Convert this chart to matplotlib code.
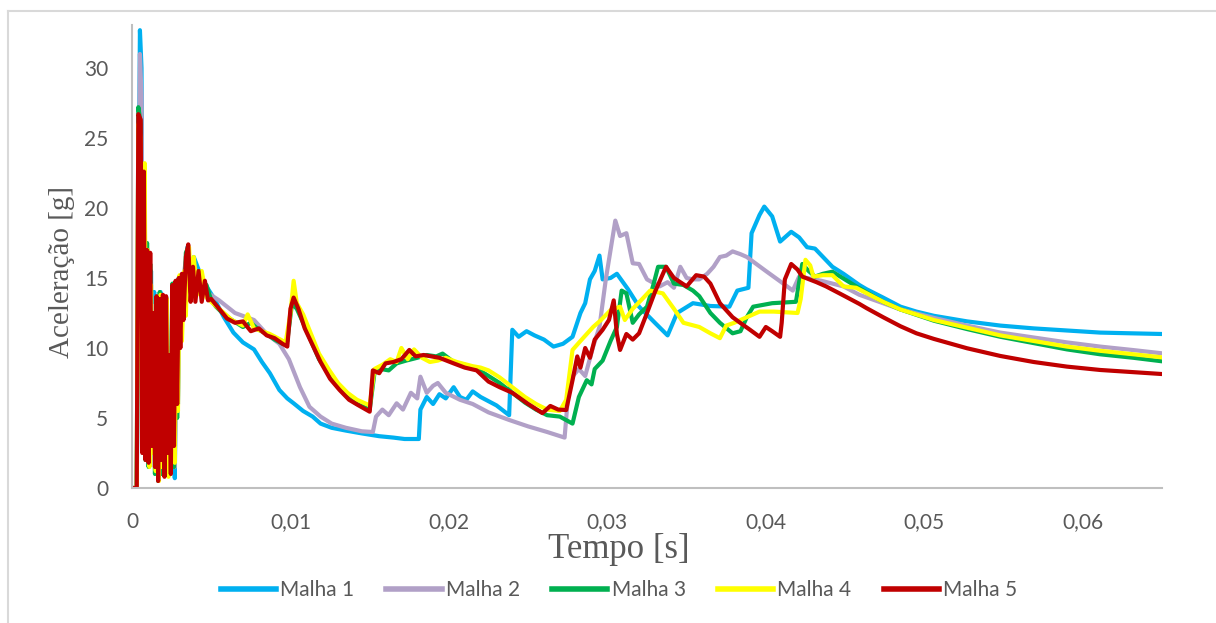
import matplotlib
matplotlib.use("Agg")
import matplotlib.pyplot as plt
from matplotlib.lines import Line2D

# ---------------- data: (time in ms, acceleration in g) ----------------
series_names = ["Malha 1", "Malha 2", "Malha 3", "Malha 4", "Malha 5"]
series_colors = ["#00B0F0", "#B1A0C7", "#00B050", "#FFFF00", "#C00000"]

malha1 = [
    (0, 0), (0.3, 0), (0.5, 32.7), (0.6, 30), (0.7, 5), (0.8, 20), (0.9, 3), (1.0, 17), (1.1, 2),
    (1.2, 15.5), (1.3, 3), (1.4, 14), (1.5, 2.5), (1.6, 13.5), (1.7, 1.5), (1.8, 14), (1.9, 2),
    (2.0, 13), (2.1, 1), (2.2, 13.5), (2.3, 3), (2.4, 10), (2.5, 2), (2.6, 14), (2.7, 0.7), (2.8, 11),
    (2.9, 6), (3.0, 14.5), (3.15, 12.5), (3.3, 15), (3.5, 17.2), (3.7, 15.5), (3.9, 16.5), (4.2, 15.6),
    (4.7, 14.4), (5.2, 13.5), (5.8, 12.2), (6.4, 11.1), (7.0, 10.4), (7.7, 9.9), (8.2, 9.0), (8.7, 8.2),
    (9.3, 7.0), (9.8, 6.4), (10.2, 6.05), (10.8, 5.5), (11.4, 5.1), (11.9, 4.6), (12.6, 4.3),
    (13.5, 4.1), (14.5, 3.9), (15.6, 3.7), (16.5, 3.6), (17.2, 3.5), (18.1, 3.5), (18.2, 5.6),
    (18.6, 6.5), (19.0, 6.0), (19.4, 6.7), (19.8, 6.4), (20.3, 7.2), (20.7, 6.5), (21.1, 6.3),
    (21.5, 6.9), (22.0, 6.5), (23.0, 5.9), (23.8, 5.2), (24.0, 11.3), (24.4, 10.8), (24.9, 11.2),
    (25.4, 10.9), (26.0, 10.6), (26.6, 10.1), (27.2, 10.3), (27.8, 10.8), (28.3, 12.5), (28.6, 13.2),
    (28.9, 14.9), (29.2, 15.5), (29.5, 16.6), (29.7, 14.9), (30.2, 15.0), (30.6, 15.3), (31.3, 14.2),
    (32.0, 12.95), (33.0, 11.8), (33.8, 10.9), (34.4, 12.5), (35.4, 13.2), (36.5, 13.0), (37.7, 12.95),
    (38.2, 14.1), (38.9, 14.3), (39.1, 18.2), (39.6, 19.5), (39.9, 20.1), (40.4, 19.4), (40.9, 17.6),
    (41.6, 18.3), (42.1, 17.9), (42.6, 17.2), (43.1, 17.1), (44.2, 15.8), (44.9, 15.3), (45.9, 14.5),
    (46.35, 14.2), (47.4, 13.6), (48.5, 12.95), (49.5, 12.6), (50.6, 12.3), (52.7, 11.9),
    (54.8, 11.6), (56.9, 11.4), (59.0, 11.25), (61.1, 11.1), (63.0, 11.05), (65.0, 11.0)]

malha2 = [
    (0, 0), (0.3, 0), (0.5, 31), (0.6, 28), (0.7, 4), (0.8, 21), (0.9, 3), (1.0, 16), (1.1, 2),
    (1.2, 14), (1.3, 2.5), (1.4, 13), (1.5, 1.5), (1.6, 13.5), (1.7, 1), (1.8, 13), (1.9, 2),
    (2.0, 13), (2.1, 1.5), (2.2, 13.5), (2.3, 2.5), (2.4, 10), (2.5, 3.5), (2.6, 13.5), (2.7, 1.5),
    (2.8, 11), (2.9, 6), (3.0, 14), (3.15, 12.5), (3.3, 15.5), (3.5, 17), (3.7, 14.5), (3.9, 16),
    (4.2, 14.8), (4.7, 14), (5.5, 13.4), (6.5, 12.5), (7.7, 12.0), (8.5, 11.0), (9.3, 10.3),
    (9.9, 9.2), (10.6, 7.2), (11.2, 5.8), (11.9, 5.1), (12.6, 4.6), (13.5, 4.3), (14.5, 4.05),
    (15.2, 4.0), (15.4, 5.1), (15.8, 5.6), (16.2, 5.2), (16.7, 6.05), (17.1, 5.6), (17.6, 6.8),
    (18.0, 6.4), (18.2, 7.95), (18.6, 6.8), (19.0, 7.3), (19.3, 7.5), (19.8, 6.8), (20.7, 6.3),
    (21.5, 6.0), (22.5, 5.4), (23.8, 4.86), (25.0, 4.4), (26.2, 4.0), (27.3, 3.6), (27.6, 7.7),
    (28.2, 8.5), (28.6, 8.0), (29.1, 10.1), (29.5, 11.5), (29.9, 14.9), (30.2, 17.0), (30.5, 19.1),
    (30.8, 18.0), (31.2, 18.2), (31.6, 16.05), (32.0, 16.0), (32.5, 14.9), (33.3, 14.4), (33.8, 14.7),
    (34.2, 14.3), (34.6, 15.8), (35.0, 15.0), (35.4, 14.9), (35.8, 14.9), (36.3, 15.3), (36.7, 15.8),
    (37.1, 16.5), (37.5, 16.6), (37.9, 16.9), (38.4, 16.7), (38.8, 16.5), (40.0, 15.5), (41.1, 14.6),
    (41.7, 14.1), (42.1, 15.1), (42.6, 15.0), (43.5, 14.8), (44.9, 14.4), (45.9, 13.8), (47.4, 13.2),
    (48.5, 12.75), (50.6, 12.15), (52.7, 11.6), (54.8, 11.1), (56.9, 10.75), (59.0, 10.4),
    (61.1, 10.1), (63.2, 9.85), (65.0, 9.62)]

malha3 = [
    (0, 0), (0.3, 0), (0.4, 27.2), (0.55, 26), (0.65, 3), (0.75, 22.5), (0.85, 2), (0.95, 17.5),
    (1.05, 1.5), (1.15, 16), (1.25, 3), (1.35, 12), (1.45, 1), (1.55, 13), (1.65, 0.5), (1.75, 14),
    (1.85, 1), (1.95, 13.5), (2.05, 2), (2.15, 13.2), (2.25, 1.2), (2.35, 9), (2.45, 4.5), (2.55, 14.6),
    (2.65, 1.5), (2.75, 14.5), (2.85, 5), (2.95, 15), (3.05, 11), (3.2, 15), (3.3, 12.5), (3.4, 16.8),
    (3.55, 17.2), (3.7, 14), (3.85, 16), (4.0, 14), (4.2, 15.5), (4.4, 13.8), (4.7, 14.5), (5.0, 13.4),
    (5.3, 12.95), (5.8, 12.4), (6.3, 12.0), (7.0, 11.5), (7.5, 11.8), (8.0, 11.3), (8.5, 11.0),
    (9.0, 10.6), (9.5, 10.3), (9.8, 10.5), (10.1, 13.2), (10.4, 12.8), (10.8, 11.8), (11.3, 10.5),
    (11.8, 9.2), (12.4, 8.2), (13.0, 7.2), (13.6, 6.5), (14.2, 6.0), (15.0, 5.6), (15.3, 8.2),
    (15.7, 8.5), (16.2, 8.4), (16.7, 8.9), (17.3, 9.1), (18.0, 9.3), (18.6, 9.5), (19.2, 9.4),
    (19.6, 9.6), (20.3, 9.0), (21.0, 8.8), (21.8, 8.5), (22.5, 8.0), (23.2, 7.5), (24.0, 6.8),
    (24.8, 6.1), (25.5, 5.6), (26.2, 5.2), (27.0, 5.1), (27.8, 4.6), (28.2, 6.5), (28.7, 7.7),
    (29.0, 7.4), (29.2, 8.5), (29.7, 9.1), (30.2, 10.5), (30.6, 11.5), (30.9, 14.1), (31.2, 13.9),
    (31.6, 11.8), (32.0, 12.4), (32.5, 12.95), (32.9, 14.5), (33.2, 15.8), (33.7, 15.8), (34.2, 14.6),
    (34.8, 14.5), (35.4, 14.1), (35.8, 13.7), (36.5, 12.5), (37.1, 11.8), (37.9, 11.05), (38.4, 11.2),
    (38.8, 12.2), (39.2, 12.95), (40.4, 13.2), (41.9, 13.3), (42.1, 14.7), (42.3, 16.0), (42.7, 15.5),
    (43.1, 15.1), (43.6, 15.3), (44.2, 15.45), (44.7, 15.1), (45.7, 14.4), (47.4, 13.3), (48.5, 12.75),
    (50.6, 11.95), (52.7, 11.35), (54.8, 10.8), (56.9, 10.35), (59.0, 9.9), (61.1, 9.55), (63.2, 9.3),
    (65.0, 9.05)]

malha4 = [
    (0, 0), (0.3, 0), (0.4, 26), (0.55, 25), (0.65, 3.5), (0.8, 23.2), (0.9, 2), (1.0, 17),
    (1.1, 1.5), (1.2, 14.5), (1.3, 2.5), (1.4, 12.5), (1.5, 1.2), (1.6, 13), (1.7, 0.5), (1.8, 13.8),
    (1.9, 1.5), (2.0, 13), (2.1, 2), (2.2, 13.5), (2.3, 0.8), (2.4, 9.5), (2.5, 3), (2.6, 14.5),
    (2.7, 1.8), (2.8, 14), (2.9, 5.5), (3.0, 15.2), (3.15, 10.5), (3.3, 15.5), (3.4, 12.3), (3.5, 17.0),
    (3.6, 17.2), (3.75, 13.8), (3.9, 16.5), (4.1, 13.8), (4.4, 15.5), (4.7, 13.6), (5.3, 13.0),
    (5.8, 12.5), (6.3, 12.0), (7.0, 11.6), (7.3, 12.4), (7.7, 11.4), (8.2, 11.2), (8.7, 11.0),
    (9.2, 10.7), (9.7, 10.4), (10.0, 12.5), (10.2, 14.8), (10.4, 13.2), (10.8, 12.4), (11.3, 11.0),
    (11.8, 9.6), (12.4, 8.5), (13.0, 7.5), (13.6, 6.8), (14.2, 6.3), (15.0, 5.9), (15.3, 8.5),
    (15.8, 8.8), (16.3, 9.2), (16.7, 9.0), (17.0, 10.0), (17.4, 9.2), (17.8, 9.9), (18.3, 9.3),
    (18.8, 9.0), (19.3, 9.1), (19.8, 9.3), (20.5, 9.0), (21.5, 8.7), (22.0, 8.6), (22.5, 8.4),
    (23.2, 7.9), (24.0, 7.2), (24.8, 6.5), (25.5, 6.0), (26.2, 5.6), (27.0, 5.5), (27.4, 6.3),
    (27.8, 9.86), (28.3, 10.5), (28.7, 11.0), (29.1, 11.5), (29.6, 12.0), (30.2, 12.7), (30.8, 12.95),
    (31.1, 12.0), (31.6, 12.8), (32.2, 13.5), (32.7, 14.1), (33.1, 14.0), (33.5, 13.9), (34.2, 12.8),
    (34.8, 11.8), (35.8, 11.5), (36.5, 11.05), (37.1, 10.7), (37.5, 11.6), (38.0, 11.8), (38.6, 12.1),
    (39.6, 12.6), (40.5, 12.6), (42.0, 12.5), (42.2, 13.5), (42.5, 16.3), (42.8, 15.9), (43.0, 15.1),
    (43.6, 15.2), (44.2, 15.2), (44.9, 14.4), (45.7, 14.3), (47.4, 13.3), (48.5, 12.75), (50.6, 12.0),
    (52.7, 11.45), (54.8, 10.9), (56.9, 10.5), (59.0, 10.1), (61.1, 9.8), (63.2, 9.55), (65.0, 9.33)]

malha5 = [
    (0, 0), (0.3, 0), (0.4, 26.7), (0.55, 26.3), (0.65, 2.5), (0.75, 22.6), (0.85, 2), (0.95, 17),
    (1.05, 1.8), (1.15, 16.8), (1.25, 3), (1.35, 12.5), (1.45, 1.5), (1.55, 13.7), (1.65, 0.5),
    (1.75, 13.5), (1.85, 2), (1.95, 13.8), (2.05, 0.8), (2.15, 13.7), (2.25, 2.5), (2.35, 9.5),
    (2.45, 1), (2.55, 14.5), (2.65, 3), (2.75, 14.8), (2.85, 6), (2.95, 15), (3.05, 10), (3.15, 15.3),
    (3.25, 12), (3.4, 16.5), (3.55, 17.4), (3.7, 13.3), (3.85, 15.8), (4.0, 13.3), (4.2, 15.5),
    (4.4, 13.3), (4.6, 14.8), (4.8, 13.4), (5.0, 13.5), (5.5, 12.8), (6.0, 12.1), (6.5, 11.8),
    (7.0, 11.9), (7.5, 11.2), (8.0, 11.4), (8.5, 10.9), (9.0, 10.7), (9.5, 10.3), (9.8, 10.1),
    (10.0, 12.8), (10.2, 13.6), (10.5, 12.8), (10.9, 11.4), (11.4, 10.2), (11.9, 9.0), (12.5, 7.8),
    (13.1, 7.0), (13.7, 6.3), (14.3, 5.9), (15.0, 5.45), (15.2, 8.4), (15.6, 8.2), (16.0, 8.9),
    (16.5, 9.0), (17.0, 9.2), (17.5, 9.86), (17.9, 9.4), (18.4, 9.5), (19.4, 9.3), (20.3, 8.9),
    (21.0, 8.6), (21.75, 8.4), (22.5, 7.6), (23.2, 7.2), (24.0, 6.8), (25.0, 6.0), (25.9, 5.35),
    (26.4, 5.86), (26.9, 5.6), (27.4, 5.57), (27.8, 7.7), (28.1, 9.4), (28.3, 8.6), (28.6, 10.0),
    (28.9, 9.3), (29.2, 10.6), (29.7, 11.3), (30.1, 12.0), (30.4, 13.4), (30.6, 11.0), (30.8, 9.86),
    (31.2, 11.0), (31.6, 10.6), (32.0, 11.05), (32.5, 12.5), (33.0, 14.0), (33.7, 15.8), (34.2, 15.0),
    (34.6, 14.7), (35.0, 14.4), (35.6, 15.2), (36.1, 15.1), (36.5, 14.6), (37.1, 13.2), (37.5, 12.7),
    (37.9, 12.2), (38.5, 11.7), (39.0, 11.3), (39.6, 10.8), (40.0, 11.5), (40.4, 11.2), (40.9, 10.8),
    (41.0, 11.8), (41.2, 14.9), (41.6, 16.0), (42.0, 15.6), (42.3, 15.1), (43.2, 14.7), (43.8, 14.4),
    (44.9, 13.75), (45.9, 13.15), (46.35, 12.85), (47.4, 12.2), (48.5, 11.55), (49.5, 11.05),
    (50.6, 10.65), (52.7, 9.98), (54.8, 9.43), (56.9, 9.0), (59.0, 8.67), (61.1, 8.43), (63.2, 8.27),
    (65.0, 8.14)]

x_ticks = [0, 0.01, 0.02, 0.03, 0.04, 0.05, 0.06]
x_tick_labels = ["0", "0,01", "0,02", "0,03", "0,04", "0,05", "0,06"]
y_ticks = [0, 5, 10, 15, 20, 25, 30]
y_tick_labels = ["0", "5", "10", "15", "20", "25", "30"]

# ---------------- figure ----------------
W, H = 1216, 623
fig = plt.figure(figsize=(W / 100, H / 100), dpi=100)
ax = fig.add_axes([132 / W, 1 - 488 / H, (1162 - 132) / W, (488 - 25) / H])

sans = ["Lato", "DejaVu Sans"]
serif = ["Liberation Serif", "DejaVu Serif"]
txt_color = "#595959"

for pts, c, n in zip([malha1, malha2, malha3, malha4, malha5], series_colors, series_names):
    ts = [p[0] / 1000 for p in pts]
    ys = [p[1] for p in pts]
    ax.plot(ts, ys, color=c, lw=3.0, label=n,
            solid_joinstyle="round", solid_capstyle="round")

ax.set_xlim(0, 0.065)
ax.set_ylim(0, 33.07)
ax.set_xticks(x_ticks)
ax.set_xticklabels(x_tick_labels)
ax.set_yticks(y_ticks)
ax.set_yticklabels(y_tick_labels)
ax.tick_params(length=0, labelsize=15, labelcolor=txt_color)
ax.tick_params(axis="x", pad=17)
ax.tick_params(axis="y", pad=17)
for lab in ax.get_xticklabels() + ax.get_yticklabels():
    lab.set_family(sans)

for s in ["top", "right"]:
    ax.spines[s].set_visible(False)
for s in ["left", "bottom"]:
    ax.spines[s].set_color("#BFBFBF")
    ax.spines[s].set_linewidth(1.5)

fig.text(619 / W, 1 - 549 / H, "Tempo [s]", ha="center", va="center",
         fontsize=25, color=txt_color, family=serif)
fig.text(62 / W, 1 - 272 / H, "Aceleração [g]", ha="center", va="center",
         rotation=90, fontsize=21, color=txt_color, family=serif)

handles = [Line2D([0], [0], color=c, lw=4) for c in series_colors]
leg = fig.legend(handles, series_names, loc="center", ncol=5,
                 bbox_to_anchor=(619 / W, 1 - 590 / H), bbox_transform=fig.transFigure,
                 frameon=False, handlelength=2.65, handletextpad=0.2, columnspacing=1.55,
                 prop={"family": sans, "size": 15})
for t in leg.get_texts():
    t.set_color(txt_color)

# chart-area border (top and left edges)
fig.add_artist(Line2D([8 / W, 1], [1 - 10.5 / H, 1 - 10.5 / H], color="#D9D9D9", lw=1.5,
                      transform=fig.transFigure))
fig.add_artist(Line2D([8 / W, 8 / W], [0, 1 - 10.5 / H], color="#D9D9D9", lw=1.5,
                      transform=fig.transFigure))

fig.savefig("out.png", dpi=100)
